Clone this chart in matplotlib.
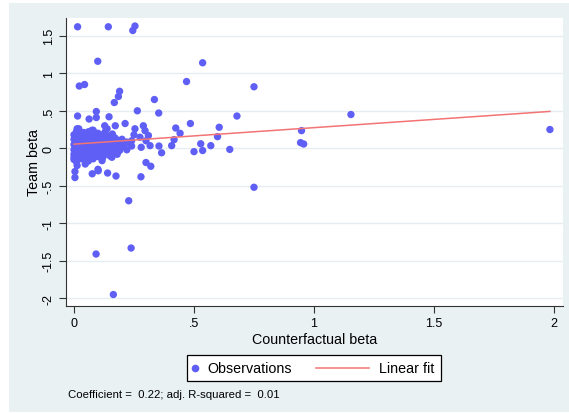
import matplotlib.pyplot as plt
from matplotlib.lines import Line2D
from matplotlib.patches import Rectangle

# Observations (counterfactual beta, team beta)
obs_x = [
    # outliers and sparse points
    0.015, 0.143, 0.254, 0.245, 0.099, 0.536, 0.022, 0.044, 0.469, 0.750,
    0.190, 0.185, 0.168, 0.335, 0.015, 0.063, 0.093, 0.093, 0.146, 0.264,
    0.353, 0.679, 0.485, 0.605, 0.598, 0.424, 0.442, 0.417, 0.407, 0.528,
    0.536, 0.570, 0.500, 0.649, 0.354, 0.365, 0.300, 0.320, 0.279, 0.004,
    0.004, 0.076, 0.101, 0.140, 0.175, 0.750, 0.228, 0.092, 0.238, 0.164,
    0.948, 0.944, 0.957, 1.154, 1.983, 0.013, 0.075, 0.128, 0.138, 0.172,
    0.013, 0.047, 0.100, 0.117, 0.158, 0.213, 0.254, 0.289, 0.296, 0.275,
    0.310, 0.300, 0.220, 0.280, 0.317, 0.164,
    # dense cluster near the origin
    0.00, 0.00, 0.00, 0.00, 0.00, 0.00, 0.00,
    0.01, 0.01, 0.01, 0.01, 0.01, 0.01, 0.01,
    0.02, 0.02, 0.02, 0.02, 0.02,
    0.03, 0.03, 0.03, 0.03, 0.03,
    0.04, 0.04, 0.04, 0.04, 0.04,
    0.05, 0.05, 0.05, 0.05, 0.05,
    0.06, 0.06, 0.06, 0.06, 0.06,
    0.07, 0.07, 0.07, 0.07,
    0.08, 0.08, 0.08, 0.08, 0.08,
    0.09, 0.09, 0.09, 0.09,
    0.10, 0.10, 0.10, 0.10, 0.10,
    0.11, 0.11, 0.11, 0.11,
    0.12, 0.12, 0.12, 0.12,
    0.13, 0.13, 0.13, 0.13,
    0.14, 0.14, 0.14, 0.14,
    0.15, 0.15, 0.15,
    0.16, 0.16, 0.16,
    0.17, 0.17, 0.17,
    0.18, 0.18, 0.18,
    0.19, 0.19,
    0.20, 0.20,
    0.21, 0.22, 0.22, 0.24, 0.24, 0.25,
]
obs_y = [
    1.62, 1.62, 1.63, 1.57, 1.16, 1.14, 0.83, 0.85, 0.89, 0.82,
    0.76, 0.69, 0.61, 0.65, 0.43, 0.39, 0.49, 0.41, 0.42, 0.50,
    0.47, 0.43, 0.33, 0.28, 0.155, 0.27, 0.20, 0.115, 0.035, 0.06,
    -0.03, 0.035, -0.045, -0.015, 0.03, -0.06, -0.19, -0.24, -0.38, -0.31,
    -0.39, -0.34, -0.30, -0.33, -0.37, -0.52, -0.70, -1.41, -1.33, -1.95,
    0.235, 0.075, 0.057, 0.45, 0.25, 0.26, 0.24, 0.30, 0.26, 0.30,
    -0.23, -0.21, -0.28, -0.165, -0.12, 0.33, 0.26, 0.30, 0.235, 0.147,
    0.17, 0.10, 0.08, 0.013, 0.035, 0.057,
    0.12, 0.05, -0.02, -0.08, -0.15, 0.18, -0.12,
    0.22, 0.08, 0.00, -0.05, -0.18, 0.14, -0.10,
    0.15, 0.03, -0.11, 0.26, -0.03,
    0.10, -0.06, 0.19, -0.14, 0.01,
    0.05, 0.14, -0.02, -0.09, 0.21,
    0.11, -0.13, 0.00, 0.07, -0.06,
    0.16, 0.03, -0.10, 0.22, -0.17,
    0.09, -0.04, 0.13, -0.01,
    0.06, 0.18, -0.08, -0.14, 0.24,
    0.12, 0.00, -0.05, 0.08,
    0.15, -0.11, 0.04, 0.20, -0.02,
    0.07, -0.07, 0.11, 0.02,
    0.18, -0.03, 0.09, -0.12,
    0.05, 0.13, -0.08, 0.22,
    0.10, 0.00, -0.04, 0.16,
    0.06, -0.10, 0.12,
    0.02, 0.19, -0.06,
    0.09, -0.02, 0.14,
    0.04, 0.11, -0.08,
    0.07, -0.03,
    0.12, 0.02,
    0.05, 0.08, -0.02, 0.10, 0.03, 0.18,
]

# Linear fit as printed in the note
fit_intercept = 0.055
fit_slope = 0.22

x_ticks = [0, 0.5, 1, 1.5, 2]
x_tick_labels = ['0', '.5', '1', '1.5', '2']
y_ticks = [-2, -1.5, -1, -0.5, 0, 0.5, 1, 1.5]
y_tick_labels = ['-2', '-1.5', '-1', '-.5', '0', '.5', '1', '1.5']

plt.rcParams['font.family'] = ['Liberation Sans', 'DejaVu Sans']

dot_color = '#5f5ff6'
fit_color = '#f27474'
bg_color = '#eaf1f3'

W, H = 569, 414


def fx(px):
    return px / W


def fy(py):
    return 1 - py / H


fig = plt.figure(figsize=(5.69, 4.14), dpi=100)
fig.patch.set_facecolor('white')
fig.patches.append(Rectangle((fx(9), fy(413)), fx(560), 409 / H,
                             transform=fig.transFigure, facecolor=bg_color,
                             edgecolor='none', zorder=-5))

ax = fig.add_axes([fx(66), fy(307), fx(497), 288 / H])
ax.set_zorder(2)
ax.set_facecolor('white')

ax.scatter(obs_x, obs_y, s=28, color=dot_color, edgecolors='none', zorder=3)
x0, x1 = min(obs_x), max(obs_x)
ax.plot([x0, x1], [fit_intercept + fit_slope * x0, fit_intercept + fit_slope * x1],
        color=fit_color, linewidth=1.1, zorder=4)

ax.set_xlim(-0.0333, 2.0375)
ax.set_ylim(-2.103, 1.737)

ax.set_xticks(x_ticks)
ax.set_xticklabels(x_tick_labels)
ax.set_yticks(y_ticks)
ax.set_yticklabels(y_tick_labels, rotation=90, va='center')
ax.tick_params(axis='both', direction='out', length=5, width=0.8, color='#333333',
               labelsize=9, pad=3)

ax.grid(axis='y', color='#e5edf1', linewidth=1.0, zorder=1)
ax.set_axisbelow(True)
for side in ['top', 'right']:
    ax.spines[side].set_visible(False)
for side in ['left', 'bottom']:
    ax.spines[side].set_color('#333333')
    ax.spines[side].set_linewidth(0.8)

ax.set_xlabel('Counterfactual beta', fontsize=10.3, labelpad=2)
ax.set_ylabel('Team beta', fontsize=10.3, labelpad=1)

# Legend box drawn by hand (Stata style keys of unequal width)
fig.patches.append(Rectangle((fx(186.5), fy(382)), fx(254.5), 26 / H,
                             transform=fig.transFigure, facecolor='white',
                             edgecolor='black', linewidth=0.9, zorder=3))
fig.lines.append(Line2D([fx(195)], [fy(369)], marker='o', markersize=5.5,
                        markerfacecolor=dot_color, markeredgecolor='none',
                        transform=fig.transFigure, zorder=4))
fig.lines.append(Line2D([fx(316), fx(369)], [fy(369), fy(369)], color=fit_color,
                        linewidth=1.1, transform=fig.transFigure, zorder=4))
fig.text(fx(207), fy(369), 'Observations', fontsize=10.3, va='center', ha='left', zorder=5)
fig.text(fx(379), fy(369), 'Linear fit', fontsize=10.3, va='center', ha='left', zorder=5)

fig.text(fx(68), fy(395), 'Coefficient =  0.22; adj. R-squared =  0.01',
         fontsize=8.2, va='center', ha='left')

fig.savefig('out.png', dpi=100)
